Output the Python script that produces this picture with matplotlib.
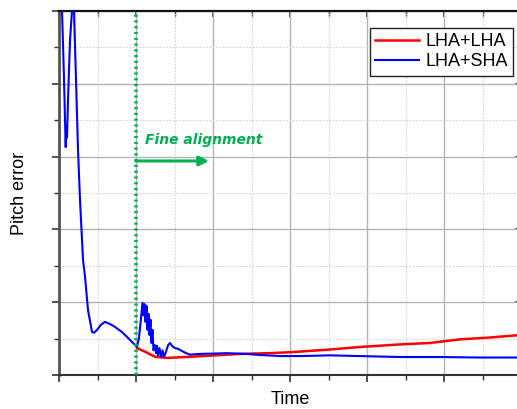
import matplotlib
matplotlib.use("Agg")
import matplotlib.pyplot as plt
from matplotlib.ticker import MultipleLocator, NullFormatter

plt.rcParams['font.family'] = ['Liberation Sans', 'DejaVu Sans']

# ---- data ----
blue_x = [0.013, 0.039, 0.058, 0.071, 0.078, 0.087, 0.095, 0.104, 0.117, 0.143, 0.169, 0.182,
          0.195, 0.221, 0.247, 0.273, 0.312, 0.338, 0.377, 0.429, 0.455, 0.494, 0.545, 0.597,
          0.662, 0.727, 0.818, 0.896, 0.961, 1.013, 1.039, 1.065, 1.084, 1.097, 1.110, 1.123,
          1.136, 1.149, 1.162, 1.175, 1.188, 1.201, 1.214, 1.227, 1.247, 1.260, 1.273, 1.286,
          1.305, 1.325, 1.344, 1.364, 1.390, 1.416, 1.442, 1.468, 1.506, 1.545, 1.597, 1.649,
          1.701, 1.831, 2.026, 2.182, 2.416, 2.610, 2.870, 3.130, 3.519, 3.909, 4.429, 4.948,
          5.468, 6.0]
blue_y = [5.6, 5.0, 4.33, 3.82, 3.50, 3.13, 3.43, 3.26, 3.78, 4.60, 5.0, 5.6,
          5.0, 4.05, 3.09, 2.40, 1.58, 1.35, 0.89, 0.59, 0.58, 0.62, 0.69, 0.73,
          0.70, 0.66, 0.59, 0.51, 0.44, 0.385, 0.51, 0.78, 0.99, 0.82, 0.975, 0.73,
          0.95, 0.62, 0.84, 0.55, 0.76, 0.44, 0.62, 0.34, 0.41, 0.30, 0.40, 0.27,
          0.37, 0.25, 0.34, 0.25, 0.32, 0.41, 0.44, 0.40, 0.37, 0.36, 0.33, 0.30,
          0.28, 0.29, 0.295, 0.30, 0.29, 0.275, 0.26, 0.26, 0.27, 0.26, 0.247, 0.247,
          0.24, 0.24]

red_x = [1.013, 1.117, 1.247, 1.403, 1.701, 2.026, 2.351, 2.740, 3.039, 3.519, 3.909,
         4.429, 4.818, 5.208, 5.597, 6.0]
red_y = [0.37, 0.32, 0.25, 0.235, 0.25, 0.27, 0.29, 0.30, 0.315, 0.35, 0.385,
         0.42, 0.44, 0.49, 0.515, 0.55]

series_labels = ["LHA+LHA", "LHA+SHA"]
fine_start = 1.0
arrow_end = 1.948
arrow_y = 2.94
annot_text = "Fine alignment"
annot_x = 1.117
annot_y = 3.17

GREEN = '#00b050'

fig = plt.figure(figsize=(5.17, 4.09), dpi=100)
ax = fig.add_axes([59/517, 34/409, 462/517, 364/409])

ax.set_xlim(0, 6)
ax.set_ylim(0, 5)
ax.xaxis.set_major_locator(MultipleLocator(1))
ax.xaxis.set_minor_locator(MultipleLocator(0.5))
ax.yaxis.set_major_locator(MultipleLocator(1))
ax.yaxis.set_minor_locator(MultipleLocator(0.5))
ax.xaxis.set_major_formatter(NullFormatter())
ax.yaxis.set_major_formatter(NullFormatter())

ax.grid(True, which='major', color='#b4b4b4', linewidth=1.0, linestyle='-')
ax.grid(True, which='minor', color='#d2d2d2', linewidth=0.8, linestyle=(0, (1.5, 1.5)))
ax.set_axisbelow(True)

ax.tick_params(which='major', direction='out', length=5, width=1.2, color='#333333')
ax.tick_params(which='minor', direction='out', length=3.5, width=1.0, color='#333333')

sx = ax.secondary_xaxis('top')
sx.xaxis.set_major_locator(MultipleLocator(1))
sx.xaxis.set_minor_locator(MultipleLocator(0.5))
sx.xaxis.set_major_formatter(NullFormatter())
sx.tick_params(which='major', direction='in', length=4, width=1.2, color='#222222')
sx.tick_params(which='minor', direction='in', length=3.5, width=1.0, color='#222222')
sy = ax.secondary_yaxis('right')
sy.yaxis.set_major_locator(MultipleLocator(1))
sy.yaxis.set_minor_locator(MultipleLocator(0.5))
sy.yaxis.set_major_formatter(NullFormatter())
sy.tick_params(which='major', direction='in', length=4, width=1.2, color='#222222')
sy.tick_params(which='minor', direction='in', length=0, width=1.0)

for s in ax.spines.values():
    s.set_linewidth(1.5)
ax.spines['left'].set_color('#555555')
ax.spines['left'].set_linewidth(2.0)
ax.spines['bottom'].set_color('#333333')
ax.spines['top'].set_color('#111111')
sx.spines['top'].set_linewidth(1.5)
sy.spines['right'].set_linewidth(1.5)

ax.plot(red_x, red_y, color='#ff0000', linewidth=1.8, label=series_labels[0], zorder=3)
ax.plot(blue_x, blue_y, color='#0000ff', linewidth=1.5, label=series_labels[1], zorder=4)

ax.axvline(fine_start, color=GREEN, linewidth=2.6, linestyle=(0, (0.6, 1.0)), zorder=5)
ax.annotate('', xy=(arrow_end, arrow_y), xytext=(fine_start, arrow_y),
            arrowprops=dict(arrowstyle='-|>', color=GREEN, lw=2.2,
                            mutation_scale=14, shrinkA=0, shrinkB=0), zorder=6)
ax.text(annot_x, annot_y, annot_text, color=GREEN, fontsize=10,
        fontweight='bold', fontstyle='italic', family='DejaVu Sans', zorder=6)

ax.set_xlabel('Time', fontsize=13, labelpad=3)
ax.set_ylabel('Pitch error', fontsize=13, labelpad=14)

leg = ax.legend(loc='upper right', bbox_to_anchor=(513/517, 1 - 28/409),
                bbox_transform=fig.transFigure, fontsize=13, frameon=True,
                fancybox=False, edgecolor='#222222', framealpha=1,
                handlelength=2.4, handletextpad=0.35, labelspacing=0.15,
                borderpad=0.3, borderaxespad=0)
leg.get_frame().set_linewidth(1.0)

fig.savefig('out.png', dpi=100)
